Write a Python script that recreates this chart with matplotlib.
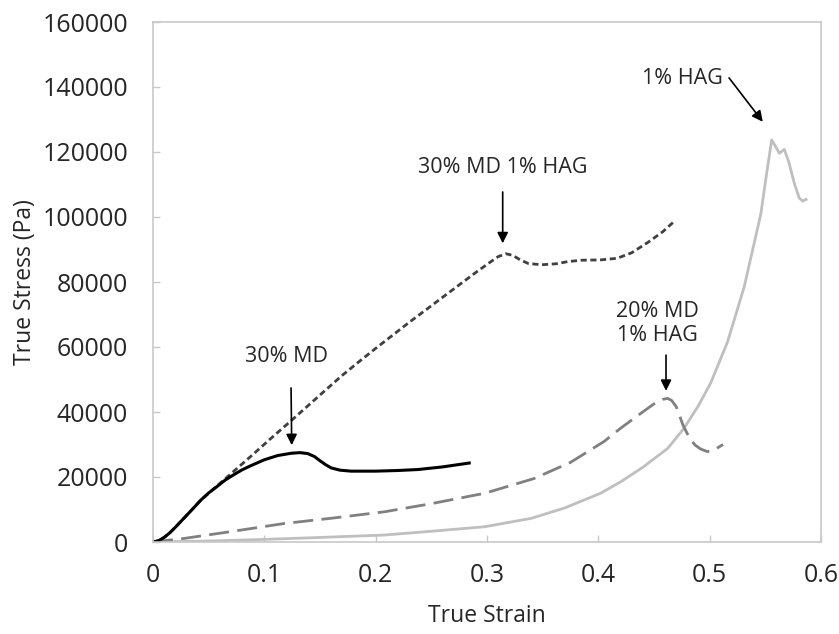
import matplotlib
matplotlib.use("Agg")
import matplotlib.pyplot as plt

plt.rcParams['font.family'] = ['Open Sans', 'DejaVu Sans']

# ---- data ----
md30_strain = [0, 0.005, 0.010, 0.015, 0.020, 0.028, 0.036, 0.043, 0.050, 0.058, 0.065, 0.073,
               0.080, 0.088, 0.100, 0.112, 0.124, 0.132, 0.139, 0.145, 0.150, 0.155, 0.160,
               0.168, 0.178, 0.200, 0.220, 0.238, 0.260, 0.284]
md30_stress = [0, 400, 1400, 2800, 4500, 7400, 10300, 12900, 15100, 17200, 19100, 20800,
               22200, 23500, 25300, 26600, 27300, 27500, 27200, 26300, 25000, 23800, 22800,
               22100, 21800, 21800, 22000, 22300, 23100, 24300]

md30hag_strain = [0, 0.005, 0.010, 0.015, 0.020, 0.028, 0.043, 0.058, 0.070, 0.088, 0.105, 0.124,
                  0.145, 0.169, 0.184, 0.199, 0.229, 0.259, 0.289, 0.302, 0.310, 0.317, 0.323,
                  0.330, 0.337, 0.349, 0.362, 0.373, 0.385, 0.402, 0.417, 0.430, 0.445, 0.458,
                  0.468]
md30hag_stress = [0, 400, 1400, 2800, 4500, 7400, 12900, 17400, 21000, 26400, 31600, 37300,
                  43700, 51000, 55200, 59300, 67300, 75000, 82700, 85900, 87800, 88700, 88200,
                  86800, 85700, 85300, 85600, 86300, 86700, 86800, 87300, 89000, 92300, 95500,
                  98600]

md20hag_strain = [0, 0.028, 0.070, 0.118, 0.160, 0.208, 0.250, 0.298, 0.342, 0.375, 0.405, 0.420,
                  0.435, 0.450, 0.458, 0.4623, 0.466, 0.470, 0.476, 0.482, 0.487, 0.492, 0.498,
                  0.505, 0.512]
md20hag_stress = [0, 1100, 3200, 5700, 7300, 9300, 11800, 15000, 19500, 24500, 30900, 35000,
                  38800, 42500, 43900, 44200, 43500, 41600, 36000, 31900, 29800, 28600, 27800,
                  28500, 30000]

hag1_strain = [0, 0.05, 0.10, 0.15, 0.208, 0.25, 0.298, 0.34, 0.37, 0.402, 0.42, 0.44, 0.4623,
               0.477, 0.49, 0.501, 0.516, 0.531, 0.546, 0.551, 0.5557, 0.5595, 0.5626, 0.567,
               0.571, 0.576, 0.5805, 0.5836, 0.5866]
hag1_stress = [0, 300, 800, 1400, 2150, 3300, 4700, 7300, 10500, 15000, 18500, 23000, 28800,
               35000, 42000, 49000, 61500, 78500, 101000, 113000, 123700, 121500, 119600, 120800,
               117000, 110400, 105800, 104900, 105400]

x_ticks = [0, 0.1, 0.2, 0.3, 0.4, 0.5, 0.6]
x_ticklabels = ['0', '0.1', '0.2', '0.3', '0.4', '0.5', '0.6']
y_ticks = [0, 20000, 40000, 60000, 80000, 100000, 120000, 140000, 160000]
y_ticklabels = ['0', '20000', '40000', '60000', '80000', '100000', '120000', '140000', '160000']

labels = ['30% MD', '30% MD 1% HAG', '20% MD\n1% HAG', '1% HAG']
label_xy = [(0.1195, 57000), (0.3144, 115100), (0.453, 67200), (0.4758, 142700)]
arrow_from = [(0.124, 47400), (0.3141, 107700), (0.4608, 57500), (0.5174, 142800)]
arrow_to = [(0.1246, 29800), (0.3141, 91900), (0.4608, 46500), (0.5477, 129300)]

# ---- figure ----
fig = plt.figure(figsize=(8.39, 6.34), dpi=100)
ax = fig.add_axes([153/839, 1 - 542/634, (821 - 153)/839, (542 - 22)/634])

ax.plot(hag1_strain, hag1_stress, color='#bfbfbf', lw=2.0, solid_joinstyle='round')
ax.plot(md20hag_strain, md20hag_stress, color='#808080', lw=2.0, dashes=(7.2, 3.0))
ax.plot(md30hag_strain, md30hag_stress, color='#404040', lw=2.0, dashes=(2.2, 1.3))
ax.plot(md30_strain, md30_stress, color='black', lw=2.2, solid_joinstyle='round')

for lab, (tx, ty), (fx, fy), (ex, ey) in zip(labels, label_xy, arrow_from, arrow_to):
    ax.text(tx, ty, lab, ha='center', va='center', fontsize=15.5, color='#262626',
            linespacing=1.2)
    ax.annotate('', xy=(ex, ey), xytext=(fx, fy),
                arrowprops=dict(arrowstyle='-|>', color='black', lw=1.2,
                                mutation_scale=16, shrinkA=0, shrinkB=0))

ax.set_xlim(0, 0.6)
ax.set_ylim(0, 160000)
ax.set_xticks(x_ticks)
ax.set_xticklabels(x_ticklabels)
ax.set_yticks(y_ticks)
ax.set_yticklabels(y_ticklabels)

ax.tick_params(axis='both', direction='in', length=5, width=1, color='#c8c8c8',
               labelsize=18, labelcolor='#262626')
ax.tick_params(axis='y', pad=18)
ax.tick_params(axis='x', pad=15)

for s in ax.spines.values():
    s.set_color('#c8c8c8')
    s.set_linewidth(1.2)

ax.set_xlabel('True Strain', fontsize=16.5, color='#262626', labelpad=12)
ax.set_ylabel('True Stress (Pa)', fontsize=16.5, color='#262626', labelpad=4)

fig.savefig('out.png', dpi=100)
